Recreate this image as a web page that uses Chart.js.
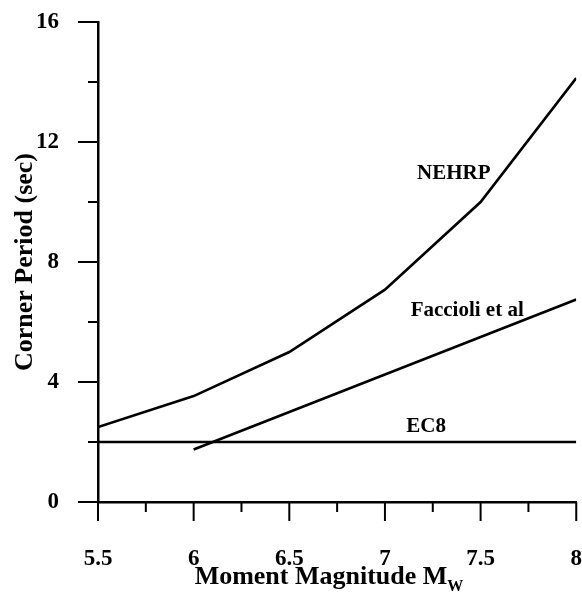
<!DOCTYPE html>
<html>
<head>
<meta charset="utf-8">
<script src="https://cdn.jsdelivr.net/npm/chart.js@4"></script>
<style>
  body { margin: 0; background: #fff; }
  canvas { display: block; }
</style>
</head>
<body>
<canvas id="cornerChart" width="582" height="594"></canvas>
<script>
// magnitude axis (Mw) and corner periods (sec)
const magnitudes = [5.5, 6, 6.5, 7, 7.5, 8];
const nehrpPeriods = [2.5, 3.53, 5.0, 7.08, 10.0, 14.13];
const faccioliMagnitudes = [6, 6.5, 7, 7.5, 8];
const faccioliPeriods = [1.75, 3.0, 4.25, 5.5, 6.75];
const ec8Magnitudes = [5.5, 8];
const ec8Periods = [2, 2];

const seriesLabels = ['NEHRP', 'Faccioli et al', 'EC8'];
const xTitle = 'Moment Magnitude M';
const xTitleSub = 'W';
const yTitle = 'Corner Period (sec)';

const serif = '"Liberation Serif", "Times New Roman", serif';

function toPoints(xs, ys) {
    return xs.map((x, i) => ({ x, y: ys[i] }));
}

// where the curve names sit, in data units
const labelSpots = [
    { text: seriesLabels[0], x: 7.36, y: 10.77 },
    { text: seriesLabels[1], x: 7.43, y: 6.2 },
    { text: seriesLabels[2], x: 7.215, y: 2.33 }
];

const decor = {
    id: 'decor',
    afterDraw(chart) {
        const { ctx, chartArea: a } = chart;
        const xs = chart.scales.x;
        const ys = chart.scales.y;
        ctx.save();
        ctx.strokeStyle = '#000';
        ctx.lineWidth = 2;
        ctx.lineCap = 'butt';

        // y ticks: major every 4, minor every 2
        for (let v = 0; v <= 16; v += 2) {
            const py = ys.getPixelForValue(v);
            const len = v % 4 === 0 ? 20 : 10;
            ctx.beginPath();
            ctx.moveTo(a.left - len, py);
            ctx.lineTo(a.left, py);
            ctx.stroke();
        }
        // x ticks: major every 0.5, minor every 0.25
        for (let i = 0; i <= 10; i++) {
            const px = xs.getPixelForValue(5.5 + i * 0.25);
            const len = i % 2 === 0 ? 19 : 10;
            ctx.beginPath();
            ctx.moveTo(px, a.bottom);
            ctx.lineTo(px, a.bottom + len);
            ctx.stroke();
        }

        ctx.fillStyle = '#000';
        ctx.textAlign = 'center';
        ctx.textBaseline = 'alphabetic';
        ctx.font = 'bold 21px ' + serif;
        labelSpots.forEach(s => {
            ctx.fillText(s.text, xs.getPixelForValue(s.x), ys.getPixelForValue(s.y));
        });

        // x title with subscript
        ctx.font = 'bold 26px ' + serif;
        const mainW = ctx.measureText(xTitle).width;
        ctx.font = 'bold 16px ' + serif;
        const subW = ctx.measureText(xTitleSub).width;
        const startX = 329 - (mainW + subW) / 2;
        ctx.textAlign = 'left';
        ctx.font = 'bold 26px ' + serif;
        ctx.fillText(xTitle, startX, 584);
        ctx.font = 'bold 16px ' + serif;
        ctx.fillText(xTitleSub, startX + mainW, 591);

        // y title
        ctx.translate(32, (a.top + a.bottom) / 2);
        ctx.rotate(-Math.PI / 2);
        ctx.textAlign = 'center';
        ctx.font = 'bold 26px ' + serif;
        ctx.fillText(yTitle, 0, 0);
        ctx.restore();
    }
};

const lineStyle = {
    borderColor: '#000',
    borderWidth: 2.6,
    pointRadius: 0,
    tension: 0,
    fill: false
};

// invisible tick marks only push the labels away from the axis
const hiddenTicks = len => ({
    display: true,
    drawOnChartArea: false,
    drawTicks: true,
    tickLength: len,
    tickColor: 'rgba(0,0,0,0)'
});

new Chart(document.getElementById('cornerChart'), {
    type: 'line',
    data: {
        datasets: [
            { label: seriesLabels[0], data: toPoints(magnitudes, nehrpPeriods), ...lineStyle },
            { label: seriesLabels[1], data: toPoints(faccioliMagnitudes, faccioliPeriods), ...lineStyle },
            { label: seriesLabels[2], data: toPoints(ec8Magnitudes, ec8Periods), ...lineStyle }
        ]
    },
    options: {
        responsive: false,
        animation: false,
        layout: { padding: { top: 22, right: 0, left: 0, bottom: 0 } },
        plugins: {
            legend: { display: false },
            tooltip: { enabled: false }
        },
        scales: {
            x: {
                type: 'linear',
                min: 5.5,
                max: 8,
                afterFit: s => { s.height = 92; },
                grid: hiddenTicks(43),
                border: { display: true, color: '#000', width: 2.5 },
                ticks: {
                    stepSize: 0.5,
                    padding: 0,
                    color: '#000',
                    maxRotation: 0,
                    autoSkip: false,
                    callback: v => String(v),
                    font: { family: serif, size: 23, weight: 'bold' }
                }
            },
            y: {
                min: 0,
                max: 16,
                afterFit: s => { s.width = 98; },
                grid: hiddenTicks(39),
                border: { display: true, color: '#000', width: 2.5 },
                ticks: {
                    stepSize: 4,
                    padding: 0,
                    color: '#000',
                    callback: v => String(v),
                    font: { family: serif, size: 23, weight: 'bold' }
                }
            }
        }
    },
    plugins: [decor]
});
</script>
</body>
</html>
